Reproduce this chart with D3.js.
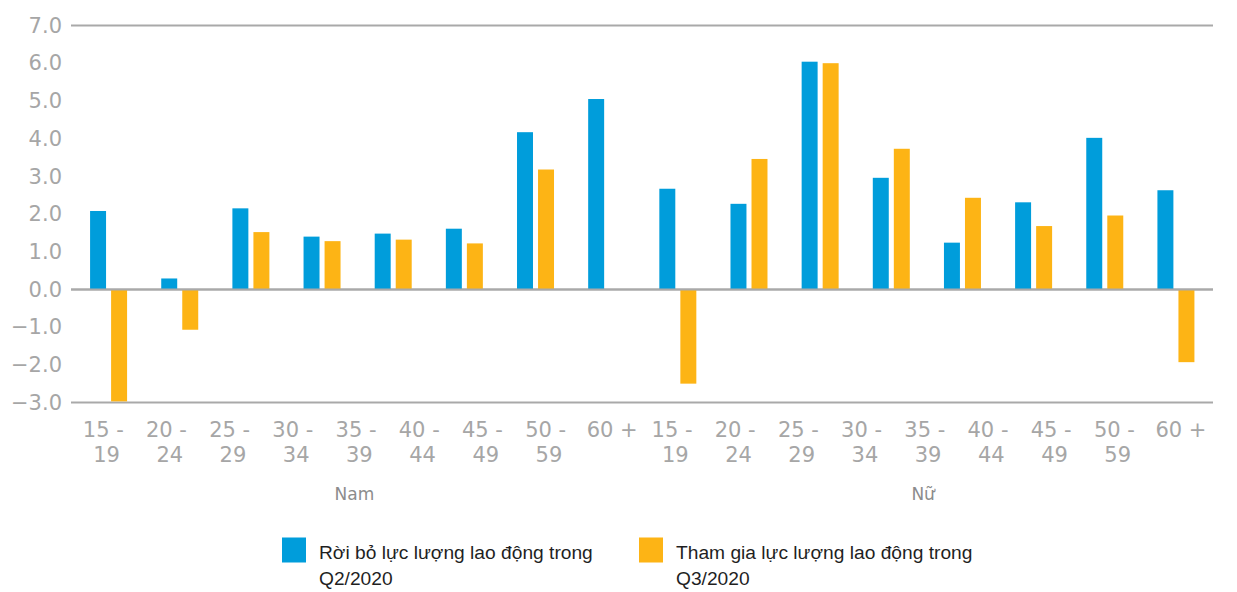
<!DOCTYPE html>
<html>
<head>
<meta charset="utf-8">
<script src="https://cdn.jsdelivr.net/npm/d3@7/dist/d3.min.js"></script>
<style>
  html, body { margin: 0; padding: 0; background: #ffffff; }
  svg { display: block; }
</style>
</head>
<body>
<svg id="chart" width="1237" height="592"></svg>
<script>
// ---- Data ----
const barGroups = ["g1","g2","g3","g4","g5","g6","g7","g8","g9","g10","g11","g12","g13","g14","g15","g16"];
const seriesNames = ["Rời bỏ lực lượng lao động trong Q2/2020", "Tham gia lực lượng lao động trong Q3/2020"];
const leftQ2 = [2.08, 0.29, 2.15, 1.40, 1.48, 1.61, 4.17, 5.05, 2.67, 2.27, 6.04, 2.96, 1.24, 2.31, 4.02, 2.63];
const joinQ3 = [-2.97, -1.07, 1.52, 1.28, 1.32, 1.22, 3.18, 0, -2.50, 3.46, 6.00, 3.73, 2.43, 1.68, 1.96, -1.93];
const ageLabels = ["15 - 19","20 - 24","25 - 29","30 - 34","35 - 39","40 - 44","45 - 49","50 - 59","60 +",
                   "15 - 19","20 - 24","25 - 29","30 - 34","35 - 39","40 - 44","45 - 49","50 - 59","60 +"];
const genderLabels = ["Nam", "Nữ"];
const yTicks = [7, 6, 5, 4, 3, 2, 1, 0, -1, -2, -3];
const gridValues = [7, 0, -3];
const colors = ["#009ddb", "#fdb415"];

const svg = d3.select("#chart");

const y = d3.scaleLinear().domain([-3, 7]).range([402.5, 25.5]);

const x0 = d3.scaleBand().domain(barGroups).range([73, 1211.5])
  .paddingInner(0.48).paddingOuter(0.24);
const x1 = d3.scaleBand().domain([0, 1]).range([0, x0.bandwidth()]).paddingInner(0.24);

const xl = d3.scaleBand().domain(d3.range(ageLabels.length)).range([75, 1212.5]);

// gridlines
svg.append("g").selectAll("line").data(gridValues).join("line")
  .attr("x1", 71).attr("x2", 1213)
  .attr("y1", d => y(d)).attr("y2", d => y(d))
  .attr("stroke", "#a9a9a9").attr("stroke-width", 2);

// y axis labels
const yAxis = svg.append("g").attr("transform", "translate(71,0)")
  .call(d3.axisLeft(y).tickValues(yTicks).tickFormat(d3.format(".1f")).tickSize(0).tickPadding(9));
yAxis.select(".domain").remove();
yAxis.selectAll("text")
  .attr("font-family", "DejaVu Sans").attr("font-size", 21).attr("fill", "#a6a6a6");

// bars
const rows = barGroups.map((g, i) => ({ g, vals: [leftQ2[i], joinQ3[i]] }));
const grp = svg.append("g").selectAll("g").data(rows).join("g")
  .attr("transform", d => `translate(${x0(d.g)},0)`);
grp.selectAll("rect").data(d => d.vals.map((v, k) => ({ v, k }))).join("rect")
  .attr("x", d => x1(d.k))
  .attr("width", x1.bandwidth())
  .attr("y", d => Math.min(y(d.v), y(0)))
  .attr("height", d => Math.abs(y(d.v) - y(0)))
  .attr("fill", d => colors[d.k]);

// redraw zero line on top
svg.append("line").attr("x1", 71).attr("x2", 1213).attr("y1", y(0)).attr("y2", y(0))
  .attr("stroke", "#a9a9a9").attr("stroke-width", 2);

// x labels (two lines)
const xlab = svg.append("g").selectAll("text").data(ageLabels).join("text")
  .attr("font-family", "DejaVu Sans").attr("font-size", 21).attr("fill", "#a6a6a6")
  .attr("text-anchor", "middle").style("white-space", "pre");
xlab.each(function(d, i) {
  const t = d3.select(this);
  const cx = xl(i) + xl.bandwidth() / 2;
  const parts = d.split(" - ");
  if (parts.length === 2) {
    t.append("tspan").attr("x", cx).attr("y", 437).text(parts[0] + " - ");
    t.append("tspan").attr("x", cx).attr("y", 462).text(parts[1]);
  } else {
    t.append("tspan").attr("x", cx).attr("y", 437).text(d);
  }
});

// gender labels
const half = ageLabels.length / 2;
svg.append("g").selectAll("text").data(genderLabels).join("text")
  .attr("x", (d, i) => {
    const a = xl(i * half), b = xl(i * half + half - 1) + xl.bandwidth();
    return (a + b) / 2 - 5;
  })
  .attr("y", 500)
  .attr("text-anchor", "middle")
  .attr("font-family", "DejaVu Sans").attr("font-size", 17).attr("fill", "#8c8c8c")
  .text(d => d);

// legend
const legendX = [282, 639];
const legendLines = [["Rời bỏ lực lượng lao động trong", "Q2/2020"], ["Tham gia lực lượng lao động trong", "Q3/2020"]];
const lg = svg.append("g").selectAll("g").data(seriesNames).join("g")
  .attr("transform", (d, i) => `translate(${legendX[i]},0)`);
lg.append("rect").attr("x", 0).attr("y", 537.5).attr("width", 24).attr("height", 25)
  .attr("fill", (d, i) => colors[i]);
lg.each(function(d, i) {
  const t = d3.select(this).append("text")
    .attr("font-family", "Liberation Sans").attr("font-size", 19.2).attr("fill", "#1f1f1f");
  t.append("tspan").attr("x", 37).attr("y", 559).text(legendLines[i][0]);
  t.append("tspan").attr("x", 37).attr("y", 585).text(legendLines[i][1]);
});
</script>
</body>
</html>
